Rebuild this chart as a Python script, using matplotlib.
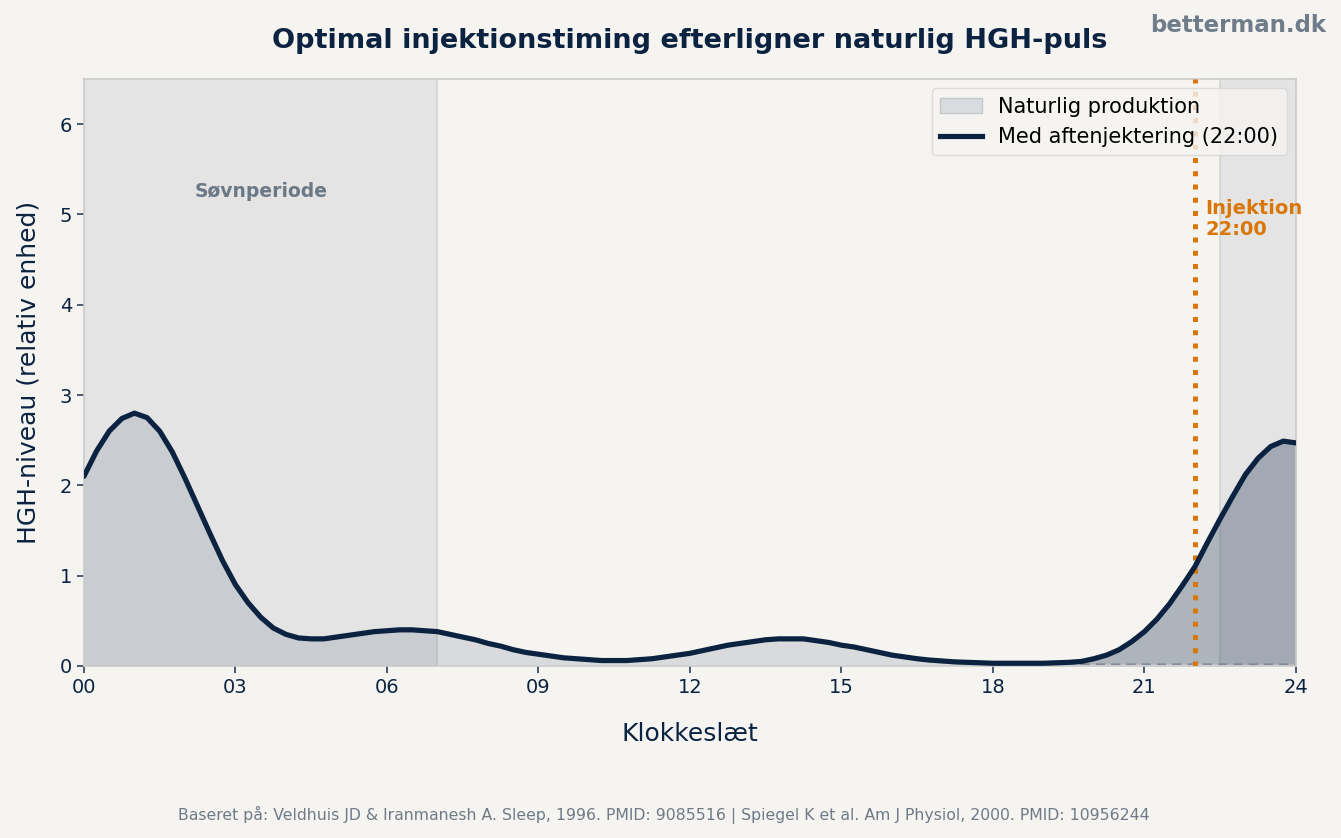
import matplotlib
matplotlib.use("Agg")
import matplotlib.pyplot as plt
from matplotlib.patches import Patch
from matplotlib.lines import Line2D

plt.rcParams['font.family'] = ['DejaVu Sans']

# Quarter-hour steps, HGH levels
hours = [i * 0.25 for i in range(97)]
with_injection = [
    2.10, 2.38, 2.60, 2.74, 2.80, 2.75, 2.60, 2.37,   # 00-02
    2.08, 1.77, 1.46, 1.16, 0.90, 0.70, 0.54, 0.42,   # 02-04
    0.35, 0.31, 0.30, 0.30, 0.32, 0.34, 0.36, 0.38,   # 04-06
    0.39, 0.40, 0.40, 0.39, 0.38, 0.35, 0.32, 0.29,   # 06-08
    0.25, 0.22, 0.18, 0.15, 0.13, 0.11, 0.09, 0.08,   # 08-10
    0.07, 0.06, 0.06, 0.06, 0.07, 0.08, 0.10, 0.12,   # 10-12
    0.14, 0.17, 0.20, 0.23, 0.25, 0.27, 0.29, 0.30,   # 12-14
    0.30, 0.30, 0.28, 0.26, 0.23, 0.21, 0.18, 0.15,   # 14-16
    0.12, 0.10, 0.08, 0.065, 0.055, 0.045, 0.04, 0.035,  # 16-18
    0.03, 0.03, 0.03, 0.03, 0.03, 0.035, 0.04, 0.05,  # 18-20
    0.08, 0.12, 0.18, 0.27, 0.38, 0.52, 0.69, 0.89,   # 20-22
    1.10, 1.37, 1.63, 1.88, 2.12, 2.30, 2.43, 2.49,   # 22-24
    2.47,
]
natural = [
    2.10, 2.38, 2.60, 2.74, 2.80, 2.75, 2.60, 2.37,
    2.08, 1.77, 1.46, 1.16, 0.90, 0.70, 0.54, 0.42,
    0.35, 0.31, 0.30, 0.30, 0.32, 0.34, 0.36, 0.38,
    0.39, 0.40, 0.40, 0.39, 0.38, 0.35, 0.32, 0.29,
    0.25, 0.22, 0.18, 0.15, 0.13, 0.11, 0.09, 0.08,
    0.07, 0.06, 0.06, 0.06, 0.07, 0.08, 0.10, 0.12,
    0.14, 0.17, 0.20, 0.23, 0.25, 0.27, 0.29, 0.30,
    0.30, 0.30, 0.28, 0.26, 0.23, 0.21, 0.18, 0.15,
    0.12, 0.10, 0.08, 0.065, 0.055, 0.045, 0.04, 0.035,
    0.03, 0.03, 0.025, 0.02, 0.02, 0.02, 0.02, 0.02,
    0.02, 0.02, 0.02, 0.02, 0.02, 0.02, 0.02, 0.02,
    0.02, 0.02, 0.02, 0.02, 0.02, 0.02, 0.02, 0.02,
    0.02,
]
sleep_periods = [(0, 7), (22.5, 24)]
injection_time = 22
tick_hours = [0, 3, 6, 9, 12, 15, 18, 21, 24]
tick_labels = ["00", "03", "06", "09", "12", "15", "18", "21", "24"]

NAVY = "#0b2340"
ORANGE = "#d97706"
BG = "#f5f4f1"
GREY_TXT = "#6b7886"

fig = plt.figure(figsize=(13.41, 8.38), dpi=100, facecolor=BG)
ax = fig.add_axes([0.0626, 0.2053, 0.9038, 0.7004])
ax.set_facecolor(BG)

# sleep shading
for start, end in sleep_periods:
    ax.axvspan(start, end, facecolor="#e4e4e4", edgecolor="#d4d4d4", lw=1.2, zorder=0)

# natural production
ax.fill_between(hours, 0, natural, color=NAVY, alpha=0.12, lw=0, zorder=1)
ax.plot(hours, natural, color="#7d8896", lw=1.1, ls=(0, (6, 4)), zorder=2)

# extra from evening injection
ax.fill_between(hours, natural, with_injection, color=NAVY, alpha=0.30, lw=0, zorder=1)
ax.plot(hours, with_injection, color=NAVY, lw=3.75, solid_capstyle="round",
        solid_joinstyle="round", zorder=4)

ax.axvline(injection_time, color=ORANGE, lw=3.6, ls=":", zorder=3)
ax.text(injection_time + 0.2, 4.95, "Injektion\n22:00", color=ORANGE, fontsize=14,
        fontweight="bold", va="center", ha="left", linespacing=1.1)
ax.text(3.5, 5.25, "Søvnperiode", color=GREY_TXT, fontsize=13.5, fontweight="bold",
        ha="center", va="center")

ax.set_xlim(0, 24)
ax.set_ylim(0, 6.5)
ax.set_xticks(tick_hours)
ax.set_xticklabels(tick_labels)
ax.set_yticks(range(0, 7))
ax.tick_params(colors="#2d3f55", labelsize=14, length=5, width=1.2, labelcolor=NAVY)
for s in ax.spines.values():
    s.set_color("#cccccc")
    s.set_linewidth(1.2)

ax.set_xlabel("Klokkeslæt", fontsize=18, color=NAVY, labelpad=18)
ax.set_ylabel("HGH-niveau (relativ enhed)", fontsize=18, color=NAVY, labelpad=14)

handles = [Patch(facecolor="#d9dcde", edgecolor="#c4c8cc", label="Naturlig produktion"),
           Line2D([0], [0], color=NAVY, lw=3.75, label="Med aftenjektering (22:00)")]
leg = ax.legend(handles=handles, loc="upper right", fontsize=15, frameon=True,
                facecolor=BG, edgecolor="#d4d4d4", framealpha=0.8,
                borderaxespad=0.45, handlelength=2.0)
leg.set_zorder(10)

# title centred over the plot area
ax.set_title("Optimal injektionstiming efterligner naturlig HGH-puls",
             fontsize=19.5, fontweight="bold", color=NAVY, pad=22)
fig.text(0.989, 0.97, "betterman.dk", ha="right", va="center", fontsize=16.5,
         fontweight="bold", color="#6f7c89")
fig.text(0.495, 0.028,
         "Baseret på: Veldhuis JD & Iranmanesh A. Sleep, 1996. PMID: 9085516 | "
         "Spiegel K et al. Am J Physiol, 2000. PMID: 10956244",
         ha="center", va="center", fontsize=11.3, color="#6f7a86")

fig.savefig("out.png", dpi=100, facecolor=BG)
